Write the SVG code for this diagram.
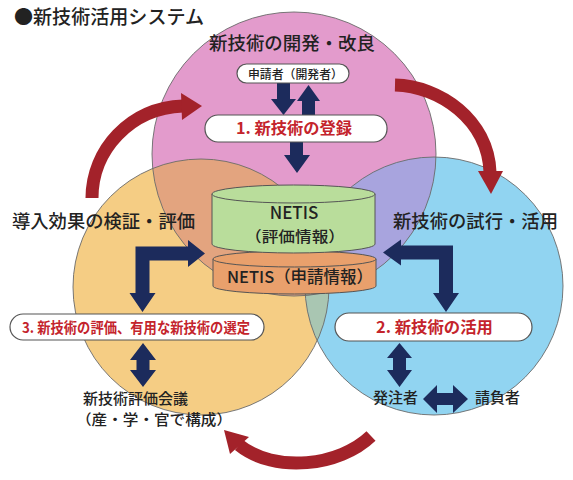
<svg xmlns="http://www.w3.org/2000/svg" width="573" height="480" viewBox="0 0 573 480">
<style>
text{font-family:"Noto Sans CJK JP","Noto Sans",sans-serif;fill:#222;font-weight:500}
.big{font-size:18.3px}
.red{fill:#c4242c;font-weight:bold}
.box{fill:#fff;stroke:#555;stroke-width:1.2}
.edge{fill:none;stroke:#6a6a6a;stroke-width:0.9}
.nav{fill:#1c2b5c}
.rarc{fill:none;stroke:#a3222a;stroke-width:13}
.rhead{fill:#a3222a}
.cyl{stroke:#555;stroke-width:1}
</style>
<defs>
<clipPath id="cpP"><circle cx="294" cy="154" r="142"/></clipPath>
<clipPath id="cpY"><circle cx="201" cy="287" r="128"/></clipPath>
</defs>
<rect width="573" height="480" fill="#fff"/>
<g id="circles">
<circle cx="294" cy="154" r="142" fill="#e39bcc"/>
<circle cx="201" cy="287" r="128" fill="#f5cd84"/>
<circle cx="434" cy="286" r="129" fill="#91d4f1"/>
<g clip-path="url(#cpP)">
<circle cx="201" cy="287" r="128" fill="#e3a47f"/>
<circle cx="434" cy="286" r="129" fill="#a8a4de"/>
</g>
<g clip-path="url(#cpY)"><circle cx="434" cy="286" r="129" fill="#a9c6b2"/></g>
<g clip-path="url(#cpP)"><g clip-path="url(#cpY)"><circle cx="434" cy="286" r="129" fill="#a5ab9c"/></g></g>
<circle class="edge" cx="294" cy="154" r="142"/>
<circle class="edge" cx="201" cy="287" r="128"/>
<circle class="edge" cx="434" cy="286" r="129"/>
</g>
<text id="title" x="14" y="24" font-size="19" textLength="190" lengthAdjust="spacingAndGlyphs">●新技術活用システム</text>
<g id="dev-label"><text class="big" x="292" y="50" text-anchor="middle" textLength="166" lengthAdjust="spacingAndGlyphs">新技術の開発・改良</text></g>
<g id="eval-label"><text class="big" x="12" y="228" textLength="183" lengthAdjust="spacingAndGlyphs">導入効果の検証・評価</text></g>
<g id="trial-label"><text class="big" x="393" y="228" textLength="165" lengthAdjust="spacingAndGlyphs">新技術の試行・活用</text></g>
<g id="connectors">
<path class="rarc" d="M92 198 C92 150 130 108 183 106"/>
<polygon class="rhead" points="181,93 202,106 182,120"/>
<path class="rarc" d="M395 85 C440 86 488 120 490 172"/>
<polygon class="rhead" points="478,171 491,194 503,171"/>
<path class="rarc" d="M371 436 C340 466 275 474 239 445"/>
<polygon class="rhead" points="224,430 230,454 249,437"/>
<polygon class="nav" points="277,83 290,83 290,99 296,99 283.5,115 271,99 277,99"/>
<polygon class="nav" points="308.5,85 320,101 315,101 315,115 302,115 302,101 297,101"/>
<polygon class="nav" points="290,142 303,142 303,155 310,155 297,173 284,155 290,155"/>
<polygon class="nav" points="135.5,293 135.5,246.5 188,246.5 188,240 205,253.5 188,267 188,260.5 149.5,260.5 149.5,293 155.5,293 142.5,312 129.5,293"/>
<polygon class="nav" points="383,252.5 401,239.5 401,245.5 453,245.5 453,293 459,293 446,312 433,293 439,293 439,259.5 401,259.5 401,265.5"/>
<polygon class="nav" points="143,343 156,360 149.5,360 149.5,370 156,370 143,387 130,370 136.5,370 136.5,360 130,360"/>
<polygon class="nav" points="399.5,343 412,358 406,358 406,370 412,370 399.5,387 387,370 393,370 393,358 387,358"/>
<polygon class="nav" points="423,399 437,385 437,393 453,393 453,385 468,399 453,413 453,405 437,405 437,413"/>
</g>
<g id="applicant">
<rect class="box" x="237" y="64" width="112" height="19" rx="9.5"/>
<text x="248" y="78.5" font-size="12" font-weight="bold" textLength="95" lengthAdjust="spacingAndGlyphs">申請者（開発者）</text>
</g>
<g id="step1">
<rect class="box" x="205" y="115" width="182" height="27" rx="13"/>
<text class="red" x="236" y="134" font-size="15.5" textLength="116" lengthAdjust="spacingAndGlyphs">1. 新技術の登録</text>
</g>
<g id="netis-apply">
<path class="cyl" fill="#e9a06c" d="M213 259 L213 286 A81.5 8 0 0 0 376 286 L376 259 Z"/>
<ellipse class="cyl" fill="#e9a06c" cx="294.5" cy="259" rx="81.5" ry="8"/>
<text x="227" y="283" font-size="16.5" textLength="146" lengthAdjust="spacingAndGlyphs">NETIS（申請情報）</text>
</g>
<g id="netis-eval">
<path class="cyl" fill="#b9dd9b" d="M212 194 L212 244 A81.5 9 0 0 0 375 244 L375 194 Z"/>
<ellipse class="cyl" fill="#b9dd9b" cx="293.5" cy="194" rx="81.5" ry="9"/>
<text x="294" y="219" font-size="17" text-anchor="middle">NETIS</text>
<text x="295" y="242" font-size="15" text-anchor="middle" textLength="100" lengthAdjust="spacingAndGlyphs">（評価情報）</text>
</g>
<g id="step3">
<rect class="box" x="10" y="314" width="254" height="26" rx="13"/>
<text class="red" x="22" y="333" font-size="14.5" textLength="228" lengthAdjust="spacingAndGlyphs">3. 新技術の評価、有用な新技術の選定</text>
</g>
<g id="step2">
<rect class="box" x="335" y="313" width="197" height="28" rx="14"/>
<text class="red" x="376" y="333" font-size="15.5" textLength="117" lengthAdjust="spacingAndGlyphs">2. 新技術の活用</text>
</g>
<g id="council">
<text x="83" y="404" font-size="15" textLength="105" lengthAdjust="spacingAndGlyphs">新技術評価会議</text>
<text x="76" y="425" font-size="14.5" textLength="156" lengthAdjust="spacingAndGlyphs">（産・学・官で構成）</text>
</g>
<g id="orderer"><text x="373" y="403" font-size="15" textLength="45" lengthAdjust="spacingAndGlyphs">発注者</text></g>
<g id="contractor"><text x="475" y="403" font-size="15" textLength="45" lengthAdjust="spacingAndGlyphs">請負者</text></g>
</svg>
